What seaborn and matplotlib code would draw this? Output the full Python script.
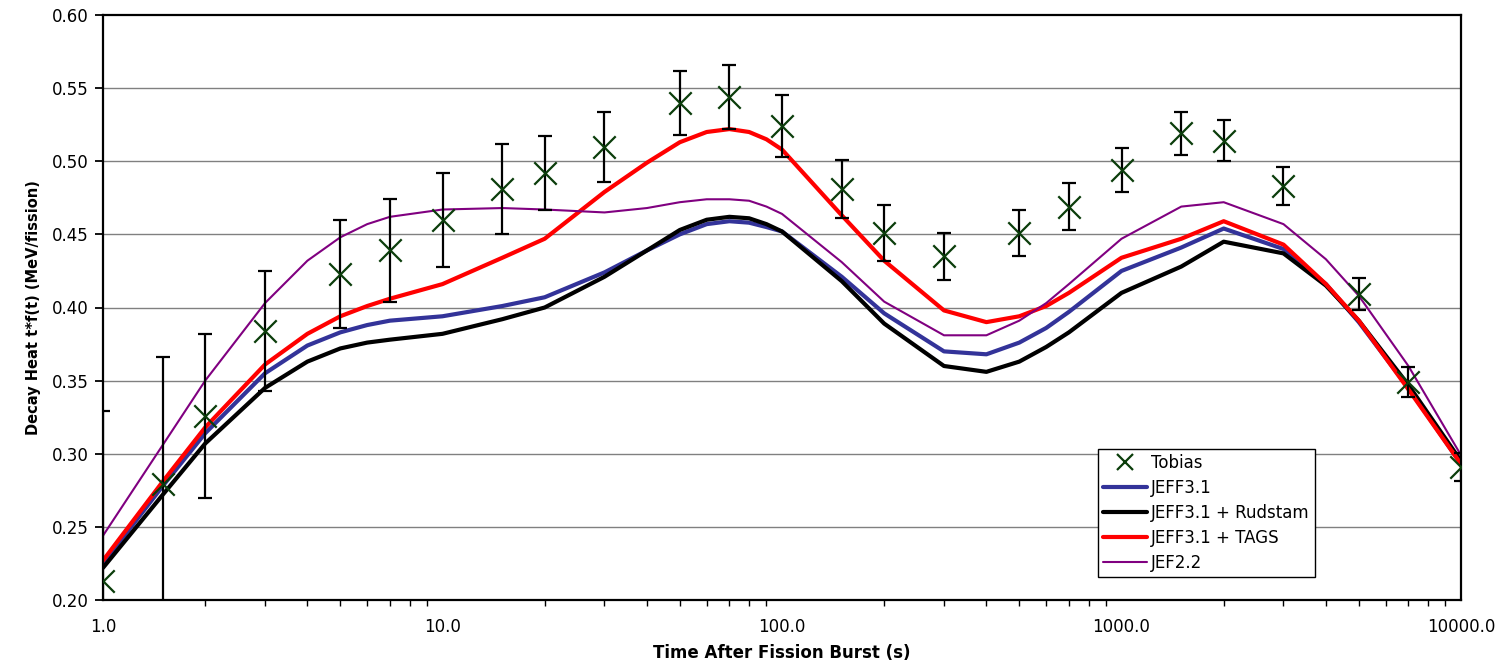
import numpy as np
import pandas as pd
import matplotlib
matplotlib.use("Agg")
import matplotlib.pyplot as plt
from matplotlib.lines import Line2D
from matplotlib.ticker import FixedLocator, FixedFormatter, LogLocator, NullFormatter
import seaborn as sns

# ---------------- data ----------------
t_model = [1, 1.5, 2, 3, 4, 5, 6, 7, 10, 15, 20, 30, 40, 50, 60, 70, 80, 90, 100,
           150, 200, 300, 400, 500, 600, 700, 1000, 1500, 2000, 3000, 4000, 5000, 7000, 10000]
jeff31 = [0.225, 0.278, 0.314, 0.355, 0.374, 0.383, 0.388, 0.391, 0.394, 0.401, 0.407, 0.424,
          0.439, 0.450, 0.457, 0.459, 0.458, 0.455, 0.452, 0.421, 0.396, 0.370, 0.368, 0.376,
          0.386, 0.397, 0.425, 0.441, 0.454, 0.440, 0.416, 0.390, 0.345, 0.293]
rudstam = [0.222, 0.272, 0.307, 0.345, 0.363, 0.372, 0.376, 0.378, 0.382, 0.392, 0.400, 0.421,
           0.439, 0.453, 0.460, 0.462, 0.461, 0.457, 0.452, 0.418, 0.389, 0.360, 0.356, 0.363,
           0.373, 0.383, 0.410, 0.428, 0.445, 0.437, 0.415, 0.391, 0.347, 0.295]
tags = [0.227, 0.281, 0.318, 0.361, 0.382, 0.394, 0.401, 0.406, 0.416, 0.434, 0.447, 0.479,
        0.499, 0.513, 0.520, 0.522, 0.520, 0.515, 0.508, 0.463, 0.432, 0.398, 0.390, 0.394,
        0.401, 0.410, 0.434, 0.447, 0.459, 0.443, 0.416, 0.391, 0.344, 0.293]
jef22 = [0.244, 0.306, 0.350, 0.403, 0.432, 0.448, 0.457, 0.462, 0.467, 0.468, 0.467, 0.465,
         0.468, 0.472, 0.474, 0.474, 0.473, 0.469, 0.464, 0.431, 0.404, 0.381, 0.381, 0.391,
         0.403, 0.416, 0.447, 0.469, 0.472, 0.457, 0.433, 0.408, 0.360, 0.299]

t_exp = [1, 1.5, 2, 3, 5, 7, 10, 15, 20, 30, 50, 70, 100, 150, 200, 300, 500, 700, 1000,
         1500, 2000, 3000, 5000, 7000, 10000]
tobias = [0.213, 0.279, 0.326, 0.384, 0.423, 0.439, 0.460, 0.481, 0.492, 0.510, 0.540, 0.544,
          0.524, 0.481, 0.451, 0.435, 0.451, 0.469, 0.494, 0.519, 0.514, 0.483, 0.409, 0.349, 0.291]
tobias_err = [0.116, 0.087, 0.056, 0.041, 0.037, 0.035, 0.032, 0.031, 0.025, 0.024, 0.022, 0.022,
              0.021, 0.020, 0.019, 0.016, 0.016, 0.016, 0.015, 0.0145, 0.014, 0.013, 0.011,
              0.010, 0.0097]

y_ticks = [0.20, 0.25, 0.30, 0.35, 0.40, 0.45, 0.50, 0.55, 0.60]
x_ticks = [1, 10, 100, 1000, 10000]
x_tick_labels = ["1.0", "10.0", "100.0", "1000.0", "10000.0"]

series_names = ["JEFF3.1", "JEFF3.1 + Rudstam", "JEFF3.1 + TAGS", "JEF2.2"]
series_vals = [jeff31, rudstam, tags, jef22]

# ---------------- styling ----------------
sns.set_theme(style="white")
plt.rcParams['font.family'] = ['DejaVu Sans']
plt.rcParams['text.color'] = 'black'
plt.rcParams['axes.labelcolor'] = 'black'
plt.rcParams['xtick.color'] = 'black'
plt.rcParams['ytick.color'] = 'black'

fig = plt.figure(figsize=(14.99, 6.65), dpi=100)
ax = fig.add_axes([103 / 1499, 1 - 600 / 665, 1358 / 1499, 585 / 665])

colors = {"JEFF3.1": "#333399", "JEFF3.1 + Rudstam": "#000000",
          "JEFF3.1 + TAGS": "#FF0000", "JEF2.2": "#800080"}
widths = {"JEFF3.1": 3.0, "JEFF3.1 + Rudstam": 3.0, "JEFF3.1 + TAGS": 3.0, "JEF2.2": 1.5}
zorders = {"JEFF3.1": 3, "JEFF3.1 + Rudstam": 4, "JEFF3.1 + TAGS": 5, "JEF2.2": 6}

for name, vals in zip(series_names, series_vals):
    df = pd.DataFrame({"t": t_model, "v": vals})
    sns.lineplot(data=df, x="t", y="v", ax=ax, color=colors[name], lw=widths[name],
                 estimator=None, sort=False, zorder=zorders[name])

ax.errorbar(t_exp, tobias, yerr=tobias_err, fmt="none", ecolor="black", elinewidth=1.6,
            capsize=5, capthick=1.6, zorder=7)
dfe = pd.DataFrame({"t": t_exp, "v": tobias})
sns.scatterplot(data=dfe, x="t", y="v", ax=ax, marker="x", s=260, color="#0b3d0b",
                linewidth=1.6, zorder=8)

ax.set_xscale("log")
ax.set_xlim(1, 10000)
ax.set_ylim(0.20, 0.60)
ax.xaxis.set_major_locator(FixedLocator(x_ticks))
ax.xaxis.set_major_formatter(FixedFormatter(x_tick_labels))
ax.xaxis.set_minor_locator(LogLocator(base=10, subs=np.arange(2, 10)))
ax.xaxis.set_minor_formatter(NullFormatter())
ax.set_yticks(y_ticks)
ax.set_yticklabels([f"{v:.2f}" for v in y_ticks])

ax.grid(False)
for v in y_ticks[1:-1]:
    ax.axhline(v, color="#808080", lw=1.0, zorder=1)

for sp in ax.spines.values():
    sp.set_color("black")
    sp.set_linewidth(1.6)
    sp.set_visible(True)

ax.tick_params(axis="both", which="major", direction="out", length=6, width=1.3,
               color="black", labelsize=12, labelcolor="black", pad=4)
ax.tick_params(axis="x", which="minor", direction="out", length=4, width=1.0, color="black")
ax.tick_params(axis="x", which="major", length=8, pad=5)
ax.tick_params(axis="x", which="minor", bottom=True)
ax.tick_params(axis="y", which="major", left=True)

ax.set_xlabel("Time After Fission Burst (s)", fontsize=12, fontweight="bold", labelpad=6,
              color="black")
ax.set_ylabel("Decay Heat t*f(t) (MeV/fission)", fontsize=10.5, fontweight="bold", labelpad=8,
              color="black")

handles = [Line2D([], [], marker="x", color="#0b3d0b", linestyle="none", markersize=11,
                  markeredgewidth=1.6)]
for name in series_names:
    handles.append(Line2D([], [], color=colors[name], lw=widths[name]))
leg = ax.legend(handles, ["Tobias"] + series_names, loc="lower left",
                bbox_to_anchor=(0.733, 0.039), fontsize=12, frameon=True, fancybox=False,
                edgecolor="black", framealpha=1, handlelength=2.6, handletextpad=0.25,
                labelspacing=0.42, borderpad=0.3, borderaxespad=0, labelcolor="black")
leg.get_frame().set_linewidth(1.0)
leg.set_zorder(10)

fig.savefig("out.png", dpi=100)
